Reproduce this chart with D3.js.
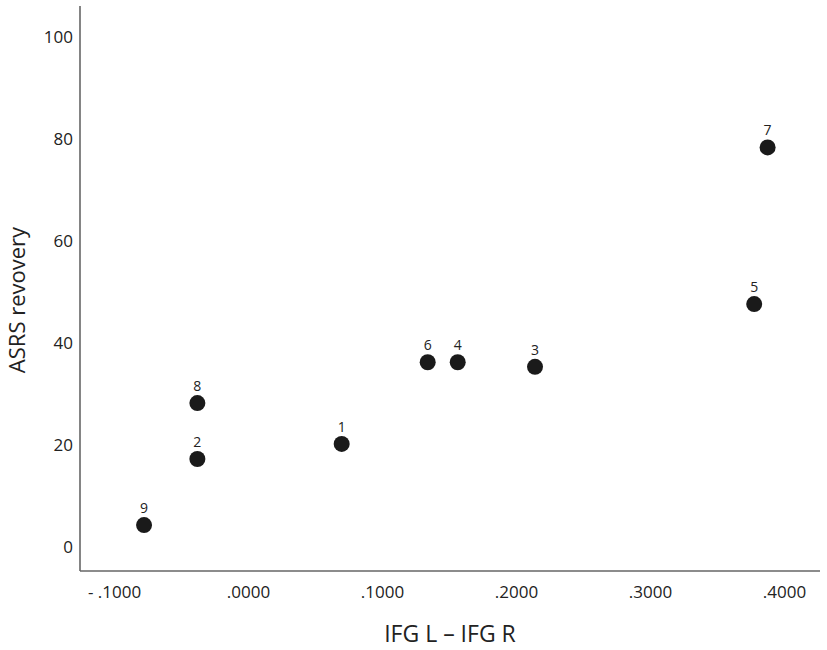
<!DOCTYPE html>
<html>
<head>
<meta charset="utf-8">
<script src="https://cdn.jsdelivr.net/npm/d3@7"></script>
<style>
  body { margin: 0; background: #fff; }
  svg text { font-family: "Open Sans", "Noto Sans", sans-serif; fill: #222; }
</style>
</head>
<body>
<div id="chart"></div>
<script>
// point ids, IFG L - IFG R, ASRS recovery
var ids = ["1", "2", "3", "4", "5", "6", "7", "8", "9"];
var diffs = [0.0699, -0.0378, 0.2142, 0.1565, 0.3778, 0.1341, 0.3878, -0.0378, -0.0776];
var asrs = [20.2, 17.25, 35.3, 36.2, 47.6, 36.2, 78.3, 28.2, 4.3];
var xTicks = [-0.1, 0, 0.1, 0.2, 0.3, 0.4];
var yTicks = [0, 20, 40, 60, 80, 100];

function drawScatter() {
    var width = 827, height = 650;
    var mLeft = 80, mRight = 820, mTop = 6, mBottom = 571;

    var svg = d3.select("#chart").append("svg")
        .attr("width", width)
        .attr("height", height);

    var x = d3.scaleLinear().domain([-0.1254, 0.4269]).range([mLeft, mRight]);
    var y = d3.scaleLinear().domain([-4.7, 106]).range([mBottom, mTop]);

    function fmt(v) {
        var s = Math.abs(v).toFixed(4).replace(/^0/, "");
        return v < 0 ? "- " + s : s;
    }

    var xAxis = svg.append("g")
        .attr("transform", "translate(0," + mBottom + ")")
        .call(d3.axisBottom(x).tickValues(xTicks).tickSize(0).tickPadding(15).tickFormat(fmt));
    xAxis.select(".domain").attr("stroke", "#666").attr("stroke-width", 1.6)
        .attr("d", "M" + mLeft + ",0H" + mRight);
    xAxis.selectAll("text").style("font-size", "17px");

    var yAxis = svg.append("g")
        .attr("transform", "translate(" + mLeft + ",0)")
        .call(d3.axisLeft(y).tickValues(yTicks).tickSize(0).tickPadding(7));
    yAxis.select(".domain").attr("stroke", "#666").attr("stroke-width", 1.6)
        .attr("d", "M0," + mTop + "V" + mBottom);
    yAxis.selectAll("text").style("font-size", "17px");

    svg.append("text")
        .attr("x", 450)
        .attr("y", 642)
        .attr("text-anchor", "middle")
        .style("font-size", "23px")
        .text("IFG L \u2013 IFG R");

    svg.append("text")
        .attr("transform", "translate(25,300) rotate(-90)")
        .attr("text-anchor", "middle")
        .style("font-size", "22px")
        .text("ASRS revovery");

    var pts = ids.map(function (d, i) { return { id: d, x: diffs[i], y: asrs[i] }; });

    svg.selectAll("circle.pt")
        .data(pts)
        .enter()
        .append("circle")
        .attr("class", "pt")
        .attr("cx", function (d) { return x(d.x); })
        .attr("cy", function (d) { return y(d.y); })
        .attr("r", 8)
        .attr("fill", "#1a1a1a");

    svg.selectAll("text.lbl")
        .data(pts)
        .enter()
        .append("text")
        .attr("class", "lbl")
        .attr("x", function (d) { return x(d.x); })
        .attr("y", function (d) { return y(d.y) - 12; })
        .attr("text-anchor", "middle")
        .style("font-size", "14px")
        .text(function (d) { return d.id; });
}

drawScatter();
</script>
</body>
</html>
